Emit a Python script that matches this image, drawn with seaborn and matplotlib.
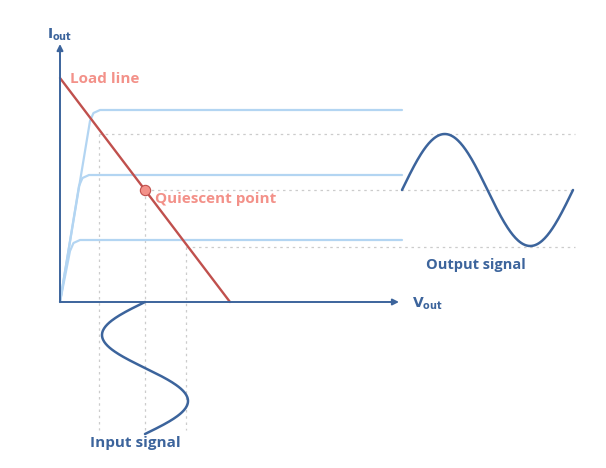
import numpy as np
import pandas as pd
from matplotlib import pyplot as plt
import seaborn as sns

# Values (units: 10 px, origin at the axes corner)
load_v = [0.0, 17.0]
load_i = [22.4, 0.0]

curve_levels = [19.2, 12.7, 6.2]
curve_knees = [3.0, 1.9, 1.0]
curve_end = 34.2

q_v, q_i = 8.5, 11.2
swing_v = [3.9, 8.5, 12.6]
swing_i = [16.8, 11.2, 5.5]

out_start, out_period, out_amp = 34.2, 17.1, 5.6
in_amp, in_period = 4.3, 13.2

dark_blue = '#3c649c'
light_blue = '#b3d5f2'
red = '#c0504d'
salmon = '#f39189'
grey = '#cccccc'

sns.set_style("white")
plt.rcParams['font.family'] = ['Open Sans', 'DejaVu Sans']
plt.rcParams['mathtext.fontset'] = 'dejavusans'

fig = plt.figure(figsize=(6.06, 4.68), dpi=100)
ax = fig.add_axes([0, 0, 1, 1])
ax.set_xlim(-6.0, 54.6)
ax.set_ylim(-16.6, 30.2)
ax.axis('off')

# dotted guide lines
for v, i in zip(swing_v, swing_i):
    ax.plot([v, 51.5], [i, i], color=grey, lw=0.9, ls=(0, (2, 3)))
    ax.plot([v, v], [i, -12.8], color=grey, lw=0.9, ls=(0, (2, 3)))

# characteristic curves
for lev, k in zip(curve_levels, curve_knees):
    xs = [0, k, k + 0.35, k + 1.0, curve_end]
    ys = [0, lev - 1.1, lev - 0.3, lev, lev]
    ax.plot(xs, ys, color=light_blue, lw=1.6, solid_capstyle='round')

# axes arrows
ax.annotate('', xy=(0, 25.8), xytext=(0, 0),
            arrowprops=dict(arrowstyle='-|>', color=dark_blue, lw=1.4,
                            mutation_scale=9, shrinkA=0, shrinkB=0))
ax.annotate('', xy=(33.9, 0), xytext=(0, 0),
            arrowprops=dict(arrowstyle='-|>', color=dark_blue, lw=1.4,
                            mutation_scale=9, shrinkA=0, shrinkB=0))

# load line
sns.lineplot(x=load_v, y=load_i, color=red, lw=1.7, ax=ax)
ax.scatter([q_v], [q_i], s=55, color=salmon, edgecolor=red, lw=0.8, zorder=5)

# output signal
t = np.linspace(0, 1, 200)
out = pd.DataFrame({'v': out_start + t * out_period,
                    'i': q_i + out_amp * np.sin(2 * np.pi * t)})
sns.lineplot(data=out, x='v', y='i', color=dark_blue, lw=1.8, ax=ax, sort=False)

# input signal
inp = pd.DataFrame({'v': q_v - in_amp * np.sin(2 * np.pi * t),
                    'i': -t * in_period})
sns.lineplot(data=inp, x='v', y='i', color=dark_blue, lw=1.8, ax=ax, sort=False)

# labels
ax.text(-1.3, 26.7, r'$\mathbf{I}_{\mathbf{out}}$', color=dark_blue, fontsize=10,
        va='center')
ax.text(35.2, -0.2, r'$\mathbf{V}_{\mathbf{out}}$', color=dark_blue, fontsize=10,
        va='center')
ax.text(1.0, 22.3, 'Load line', color=salmon, fontsize=11, fontweight='bold', va='center')
ax.text(9.5, 10.3, 'Quiescent point', color=salmon, fontsize=11, fontweight='bold',
        va='center')
ax.text(41.6, 3.7, 'Output signal', color=dark_blue, fontsize=10.5, fontweight='bold',
        ha='center', va='center')
ax.text(7.5, -14.1, 'Input signal', color=dark_blue, fontsize=11, fontweight='bold',
        ha='center', va='center')

fig.savefig('out.png', dpi=100)
